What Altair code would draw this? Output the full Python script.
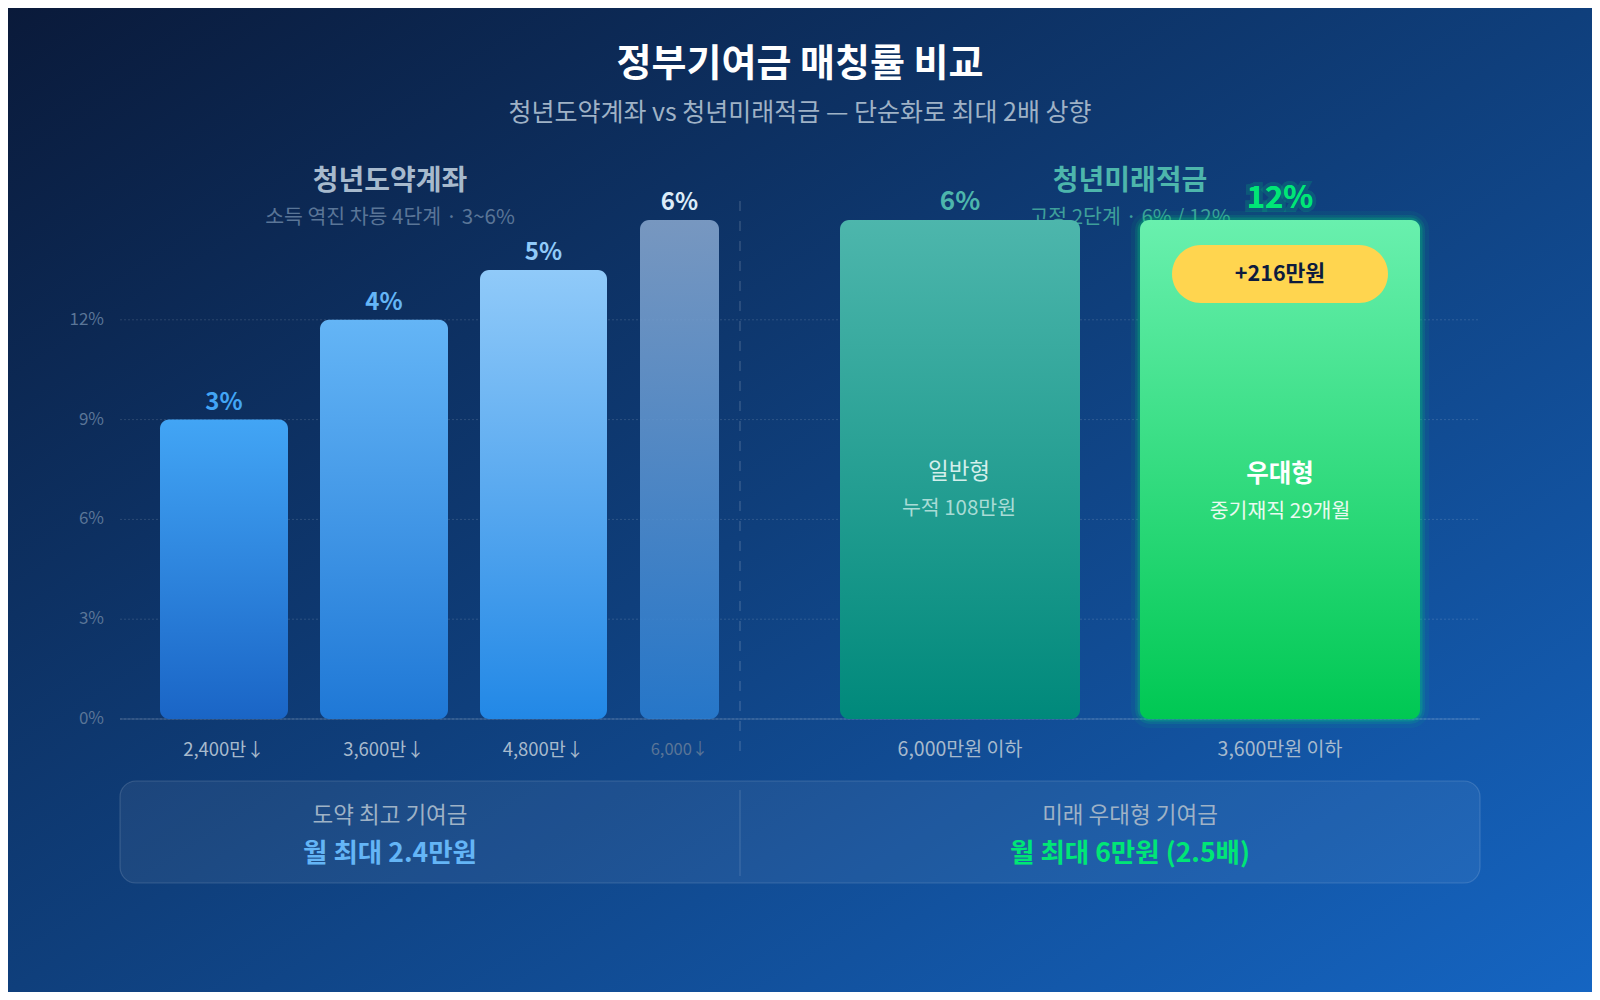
import altair as alt
import pandas as pd

FONT = "Noto Sans CJK KR"

# ---------------- data ----------------
categories = ["2,400만↓", "3,600만↓", "4,800만↓", "6,000↓", "6,000만원 이하", "3,600만원 이하"]
rate_labels = ["3%", "4%", "5%", "6%", "6%", "12%"]
bar_heights = [9, 12, 13.5, 15, 15, 15]          # bar height read on the chart's % axis
groups = ["도약", "도약", "도약", "도약", "미래", "미래"]
y_ticks = [0, 3, 6, 9, 12]

# layout (plot pixels)
bar_center = [104, 264, 423.5, 559.5, 840, 1160]
bar_width = [128, 128, 127, 79, 240, 280]

top_colors = ["#42a5f5", "#64b5f6", "#90caf9", "#8aa9d0", "#4db6ac", "#69f0ae"]
bottom_colors = ["#1a65c6", "#1f78d6", "#2288e6", "#2a7fd4", "#00897b", "#00c853"]
label_colors = ["#42a5f5", "#64b5f6", "#90caf9", "#dcecf8", "#4db6ac", "#00e676"]

df = pd.DataFrame({
    "cat": categories, "lab": rate_labels, "h": bar_heights, "grp": groups,
    "xc": bar_center, "w": bar_width, "i": list(range(6)), "z": [0] * 6,
})

W, H = 1360, 499
xs = alt.Scale(domain=[0, W], nice=False, zero=False, padding=0)
ys = alt.Scale(domain=[0, 15], nice=False, padding=0)

one = pd.DataFrame({"k": [0]})


def vtext(txt, x, y, size, color, weight="normal", opacity=1.0, align="center"):
    return alt.Chart(one).mark_text(
        text=txt, font=FONT, fontSize=size, color=color, fontWeight=weight,
        opacity=opacity, align=align, baseline="middle"
    ).encode(x=alt.value(x), y=alt.value(y))


layers = []

# background gradient
layers.append(
    alt.Chart(one).mark_rect(
        color=alt.Gradient(
            gradient="linear",
            stops=[alt.GradientStop(color="#0a1a3a", offset=0),
                   alt.GradientStop(color="#0f3f7c", offset=0.5),
                   alt.GradientStop(color="#1565c2", offset=1)],
            x1=0, y1=0, x2=1, y2=1,
        )
    ).encode(x=alt.value(-112), x2=alt.value(1472), y=alt.value(-212), y2=alt.value(772))
)

tick_df = pd.DataFrame({"t": y_ticks, "s": [f"{t}%" for t in y_ticks]})

# grid (y)
layers.append(alt.Chart(tick_df).mark_rule(
    color="#ffffff", strokeOpacity=0.13, strokeDash=[2, 2], strokeWidth=1
).encode(y=alt.Y("t:Q", scale=ys, axis=None), x=alt.value(0), x2=alt.value(W)))

layers.append(alt.Chart(tick_df).mark_text(
    font=FONT, fontSize=17, color="#5a7597", align="right", baseline="middle", dx=-16
).encode(y=alt.Y("t:Q", scale=ys, axis=None), x=alt.value(0), text="s:N"))

layers.append(alt.Chart(tick_df).transform_filter(alt.datum.t == 0).mark_rule(
    color="#ffffff", strokeOpacity=0.14, strokeWidth=1.5
).encode(y=alt.Y("t:Q", scale=ys, axis=None), x=alt.value(0), x2=alt.value(W)))

# divider (dashed)
layers.append(alt.Chart(one).mark_rule(color="#ffffff", strokeOpacity=0.16, strokeDash=[10, 10],
                                       strokeWidth=1.5).encode(
    x=alt.value(620), y=alt.value(-19), y2=alt.value(535)))

# group titles (drawn before bars so bars overlap subtitle)
layers.append(vtext("청년도약계좌", 270, -38, 28, "#a7bacd", "bold"))
layers.append(vtext("소득 역진 차등 4단계 · 3~6%", 270, -2, 20.5, "#5a7597"))
layers.append(vtext("청년미래적금", 1010, -38, 28, "#4db6ac", "bold"))
layers.append(vtext("고정 2단계 · 6% / 12%", 1010, -2, 20.5, "#3e9f9a"))

enc_bar = dict(
    x=alt.X("xc:Q", scale=xs, axis=None),
    y=alt.Y("h:Q", scale=ys, axis=None),
    y2=alt.Y2("z:Q"),
    size=alt.Size("w:Q", scale=None, legend=None),
)

# glow for highlighted bar
for sw, so in [(18, 0.06), (10, 0.12), (5, 0.2)]:
    layers.append(
        alt.Chart(df).transform_filter(alt.datum.i == 5).mark_bar(
            cornerRadius=10, fill="#00e676", fillOpacity=0.0, stroke="#00e676",
            strokeWidth=sw, strokeOpacity=so
        ).encode(**enc_bar)
    )

# bars (one layer per bar for individual gradients)
for i in range(6):
    layers.append(
        alt.Chart(df).transform_filter(alt.datum.i == i).mark_bar(
            cornerRadius=9,
            opacity=0.85 if i == 3 else 1.0,
            color=alt.Gradient(
                gradient="linear",
                stops=[alt.GradientStop(color=top_colors[i], offset=0),
                       alt.GradientStop(color=bottom_colors[i], offset=1)],
                x1=0, y1=0, x2=0, y2=1,
            ),
        ).encode(**enc_bar)
    )

# value labels above bars
for i in range(6):
    big = i == 5
    if big:
        layers.append(
            alt.Chart(df).transform_filter(alt.datum.i == i).mark_text(
                font=FONT, fontSize=31, fontWeight="bold", color="#00e676",
                stroke="#00e676", strokeWidth=8, strokeOpacity=0.18,
                baseline="alphabetic", dy=-12
            ).encode(x=alt.X("xc:Q", scale=xs, axis=None), y=alt.Y("h:Q", scale=ys, axis=None),
                     text="lab:N")
        )
    layers.append(
        alt.Chart(df).transform_filter(alt.datum.i == i).mark_text(
            font=FONT, fontSize=31 if big else (26 if i == 4 else 24),
            fontWeight="bold" if big else 600, color=label_colors[i],
            baseline="alphabetic", dy=-12 if big else -10
        ).encode(x=alt.X("xc:Q", scale=xs, axis=None), y=alt.Y("h:Q", scale=ys, axis=None),
                 text="lab:N")
    )

# x labels
for i in range(6):
    layers.append(
        alt.Chart(df).transform_filter(alt.datum.i == i).mark_text(
            font=FONT, fontSize=16.5 if i == 3 else (18.5 if i < 4 else 19.5),
            color="#5a7597" if i == 3 else "#a7bacd", baseline="middle", dy=31
        ).encode(x=alt.X("xc:Q", scale=xs, axis=None), y=alt.Y("z:Q", scale=ys, axis=None),
                 text="cat:N")
    )

# inner bar texts
layers.append(vtext("일반형", 839, 252, 22.5, "#d4efec"))
layers.append(vtext("누적 108만원", 839, 289, 20.5, "#b8e3de", opacity=0.9))
layers.append(vtext("우대형", 1160, 255, 24.5, "#ffffff", "bold"))
layers.append(vtext("중기재직 29개월", 1160, 292, 20.5, "#eafaf0"))

# pill
layers.append(alt.Chart(one).mark_rect(color="#ffd54f", cornerRadius=29).encode(
    x=alt.value(1052), x2=alt.value(1268), y=alt.value(25), y2=alt.value(83)))
layers.append(vtext("+216만원", 1160, 55, 21.5, "#0d1b3e", "bold"))

# bottom summary box
layers.append(alt.Chart(one).mark_rect(
    color="#ffffff", fillOpacity=0.06, stroke="#ffffff", strokeOpacity=0.14, strokeWidth=1.2,
    cornerRadius=16).encode(x=alt.value(0), x2=alt.value(W), y=alt.value(561), y2=alt.value(663)))
layers.append(alt.Chart(one).mark_rule(color="#ffffff", strokeOpacity=0.14, strokeWidth=1.2).encode(
    x=alt.value(620), y=alt.value(570), y2=alt.value(656)))
layers.append(vtext("도약 최고 기여금", 270, 596, 22.5, "#9fb2c6"))
layers.append(vtext("월 최대 2.4만원", 270, 634, 26.5, "#64b5f6", "bold"))
layers.append(vtext("미래 우대형 기여금", 1010, 596, 22.5, "#9fb2c6"))
layers.append(vtext("월 최대 6만원 (2.5배)", 1010, 634, 26.5, "#00e676", "bold"))

# titles
layers.append(vtext("정부기여금 매칭률 비교", 680, -155, 38, "#ffffff", "bold"))
layers.append(vtext("청년도약계좌 vs 청년미래적금 — 단순화로 최대 2배 상향", 680, -107, 25, "#9fb2c6"))

chart = alt.layer(*layers).properties(
    width=W, height=H,
    padding={"left": 112, "top": 212, "right": 112, "bottom": 273},
    autosize=alt.AutoSizeParams(type="none"),
    background="#0f3f7c",
).configure_view(stroke=None)

chart.save("out.html", embed_options={"renderer": "svg", "actions": False})
